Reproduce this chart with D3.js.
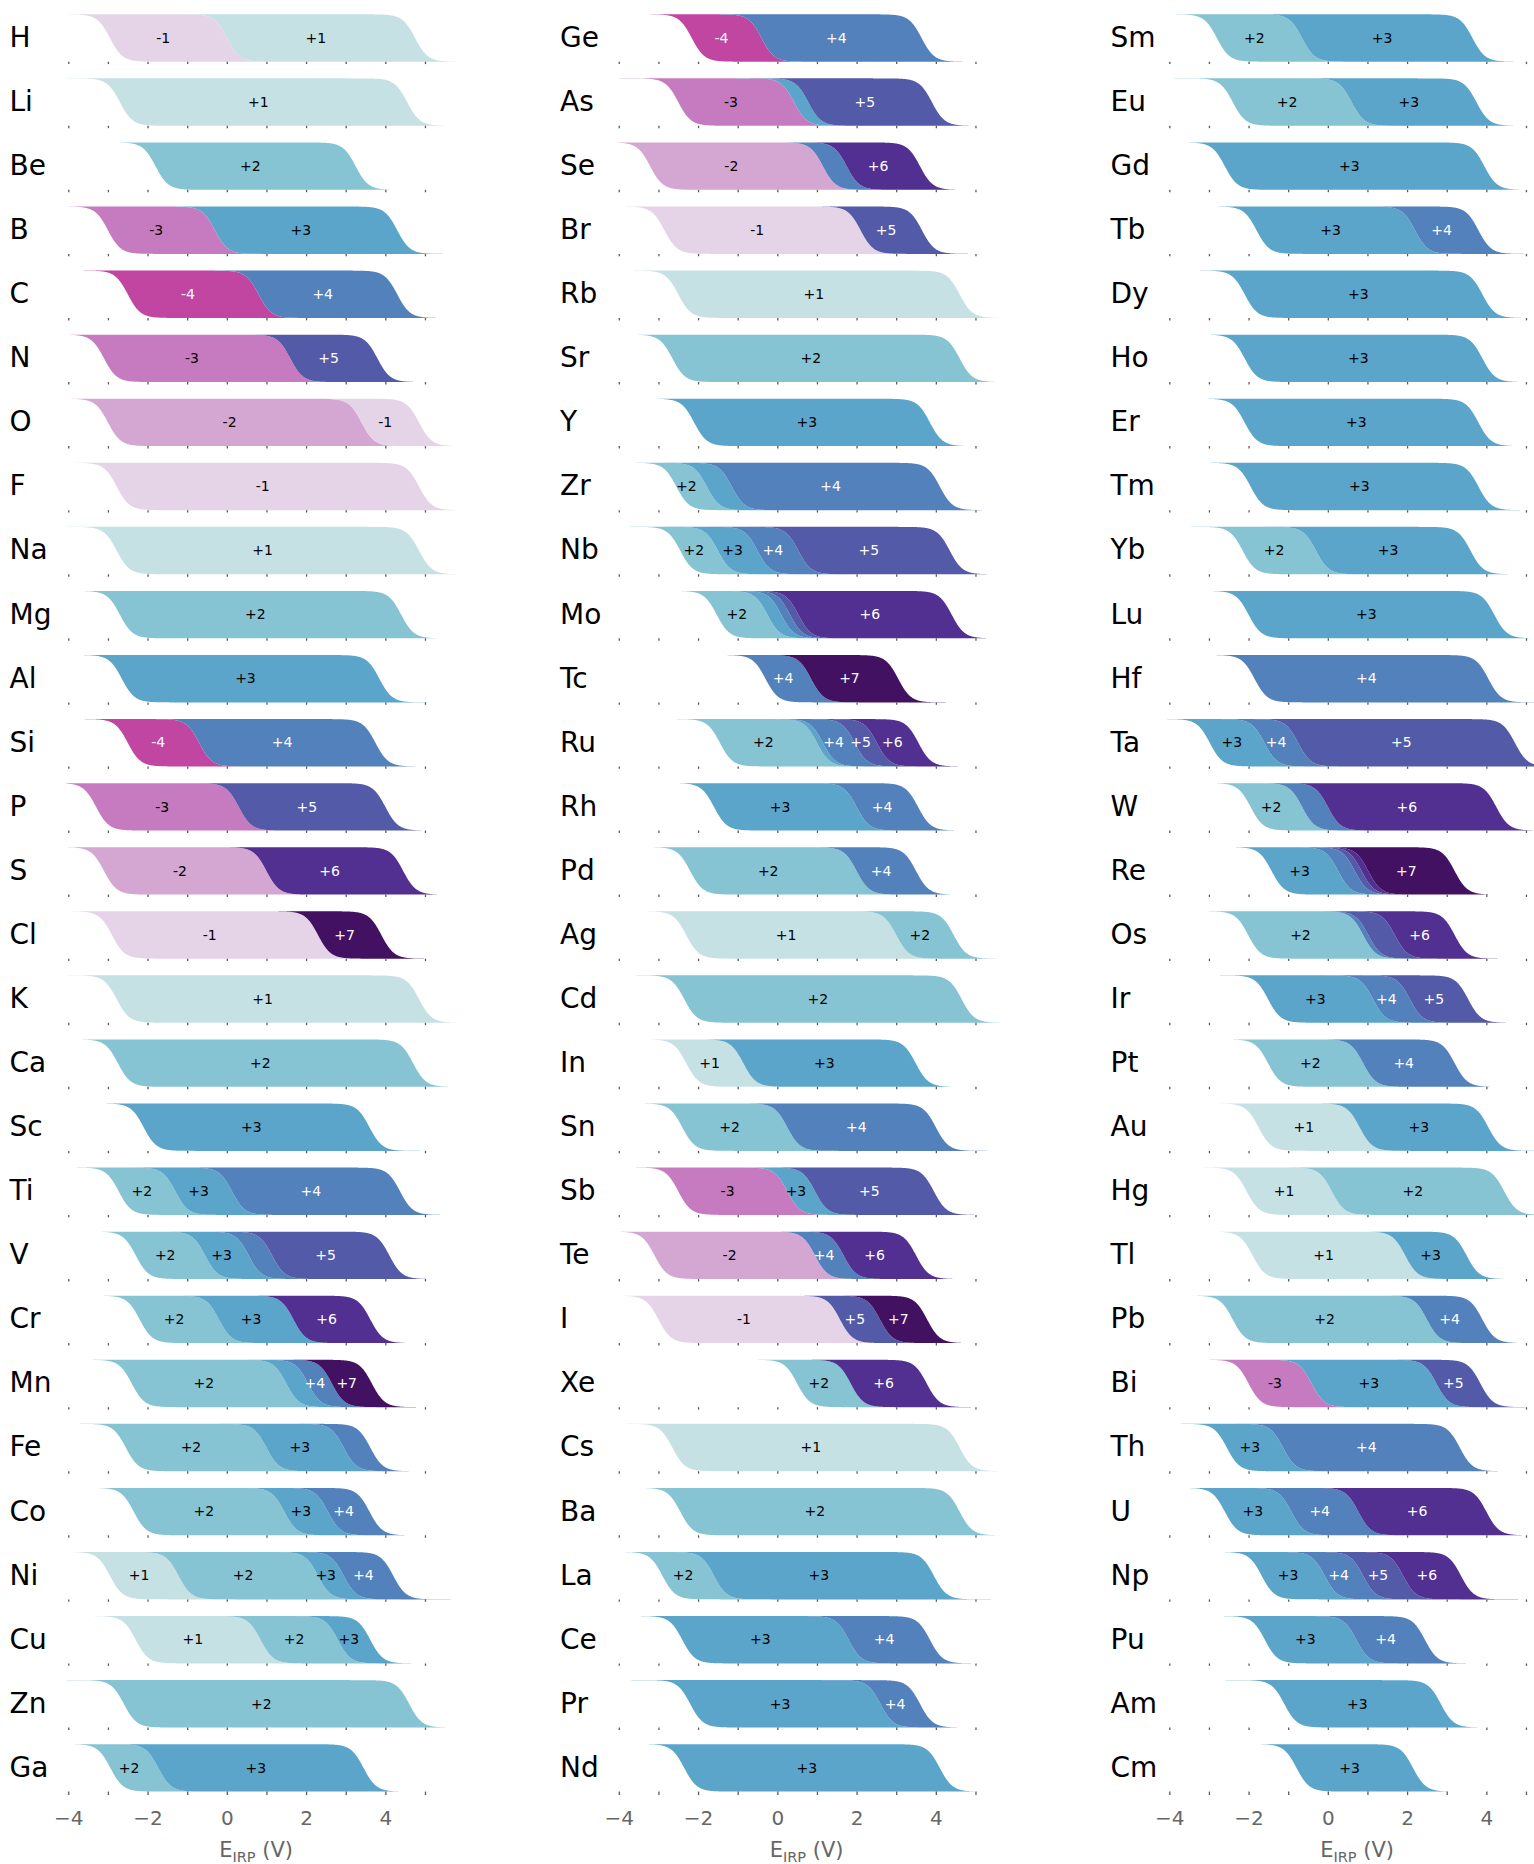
<!DOCTYPE html>
<html><head><meta charset="utf-8">
<script src="https://cdn.jsdelivr.net/npm/d3@7"></script>
<style>body{margin:0;background:#fff} svg{display:block} text{font-family:"DejaVu Sans",sans-serif}</style>
</head><body><svg id="chart" width="1534" height="1864"></svg>
<script>
// ---------------- DATA ----------------
const col1Symbols = ["H","Li","Be","B","C","N","O","F","Na","Mg","Al","Si","P","S","Cl","K","Ca","Sc","Ti","V","Cr","Mn","Fe","Co","Ni","Cu","Zn","Ga"];
const col1States = [[-1,1],[1],[2],[-3,3],[-4,4],[-3,5],[-2,-1],[-1],[1],[2],[3],[-4,4],[-3,5],[-2,6],[-1,7],[1],[2],[3],[2,3,4],[2,3,4,5],[2,3,6],[2,3,4,7],[2,3,4],[2,3,4],[1,2,3,4],[1,2,3],[2],[2,3]];
const col1Edges = [[-2.95,0.0,4.75],[-2.7,4.55],[-1.8,3.25],[-3.0,-0.3,4.3],[-2.5,0.8,4.3],[-3.1,1.6,3.8],[-3.0,3.4,4.85],[-2.78,4.85],[-2.78,4.85],[-2.7,4.4],[-2.65,3.85],[-2.5,-0.7,3.75],[-3.3,0.3,4.0],[-3.1,1.0,4.45],[-2.9,2.3,3.9],[-2.78,4.85],[-2.75,4.7],[-2.1,3.6],[-2.73,-1.3,0.13,4.37],[-2.3,-0.55,0.55,1.14,4.1],[-2.2,-0.2,1.68,3.62],[-2.4,1.5,2.05,2.65,3.66],[-2.55,1.0,2.95,3.62],[-2.35,1.45,2.55,3.6],[-2.95,-1.22,2.3,2.95,4.2],[-2.3,0.85,2.8,3.62],[-2.6,4.6],[-2.94,-1.73,3.45]];
const col1Unlabeled = [[],[],[],[],[],[],[],[],[],[],[],[],[],[],[],[],[],[],[],[4],[],[3],[4],[],[],[],[],[]];

const col2Symbols = ["Ge","As","Se","Br","Rb","Sr","Y","Zr","Nb","Mo","Tc","Ru","Rh","Pd","Ag","Cd","In","Sn","Sb","Te","I","Xe","Cs","Ba","La","Ce","Pr","Nd"];
const col2States = [[-4,4],[-3,3,5],[-2,4,6],[-1,5],[1],[2],[3],[2,3,4],[2,3,4,5],[2,3,4,5,6],[4,7],[2,3,4,5,6],[3,4],[2,4],[1,2],[2],[1,3],[2,4],[-3,3,5],[-2,4,6],[-1,5,7],[2,6],[1],[2],[2,3],[3,4],[3,4],[3]];
const col2Edges = [[-2.16,-0.4,3.64],[-2.5,0.42,0.78,3.9],[-3.21,1.15,1.75,3.6],[-2.85,2.1,3.65],[-2.5,4.6],[-2.65,4.6],[-2.1,3.85],[-2.55,-1.78,-1.15,4.1],[-2.45,-1.5,-0.5,0.53,4.35],[-1.53,-0.25,0.1,0.32,0.53,4.4],[-0.3,0.85,3.05],[-1.45,1.0,1.15,1.95,2.51,3.56],[-1.6,2.0,3.55],[-2.2,2.0,3.5],[-2.3,3.0,4.45],[-2.35,4.65],[-2.3,-0.86,3.49],[-2.4,0.25,4.0],[-2.5,0.25,0.95,3.95],[-3.1,0.95,1.67,3.5],[-3.0,1.58,2.59,3.78],[0.5,1.85,3.77],[-2.65,4.6],[-2.45,4.6],[-2.9,-1.6,3.95],[-2.4,1.8,3.85],[-2.2,2.6,3.6],[-2.35,4.1]];
const col2Unlabeled = [[],[3],[4],[],[],[],[],[3],[],[3,4,5],[],[3],[],[],[],[],[],[],[],[],[],[],[],[],[],[],[],[]];

const col3Symbols = ["Sm","Eu","Gd","Tb","Dy","Ho","Er","Tm","Yb","Lu","Hf","Ta","W","Re","Os","Ir","Pt","Au","Hg","Tl","Pb","Bi","Th","U","Np","Pu","Am","Cm"];
const col3States = [[2,3],[2,3],[3],[3,4],[3],[3],[3],[3],[2,3],[3],[4],[3,4,5],[2,4,6],[3,4,5,6,7],[2,4,5,6],[3,4,5],[2,4],[1,3],[1,2],[1,3],[2,4],[-3,3,5],[3,4],[3,4,6],[3,4,5,6],[3,4],[3],[3]];
const col3Edges = [[-2.8,-0.65,3.65],[-2.4,0.6,3.75],[-2.6,3.95],[-1.8,2.2,3.8],[-2.1,3.9],[-2.1,3.9],[-2.1,3.8],[-1.95,3.8],[-2.15,-0.3,3.6],[-2.0,4.2],[-1.85,4.05],[-2.98,-1.6,-0.75,4.72],[-1.95,-0.65,0.0,4.25],[-1.42,0.26,0.68,0.85,1.02,3.2],[-2.01,0.89,1.02,1.69,3.2],[-1.51,1.14,2.07,3.54],[-1.51,0.89,3.2],[-1.75,0.8,4.05],[-2.05,0.1,4.45],[-1.9,1.95,3.5],[-2.4,2.5,3.9],[-2.0,-0.41,2.74,3.85],[-2.55,-1.13,3.33],[-2.6,-0.92,0.77,4.0],[-1.67,-0.08,0.89,1.9,3.36],[-1.59,0.72,2.45],[-1.1,2.85],[-0.79,2.15]];
const col3Unlabeled = [[],[],[],[],[],[],[],[],[],[],[],[],[4],[4,5,6],[4,5],[],[],[],[],[],[],[],[],[],[],[],[],[]];

const stateList   = [-4, -3, -2, -1, 1, 2, 3, 4, 5, 6, 7];
const stateColors = ["#c046a2","#c67bc0","#d4a7d2","#e5d4e7","#c6e1e4","#86c4d3","#5ba5cb","#5281bc","#535aa8","#523091","#431162"];
const darkStates  = [-4, 4, 5, 6, 7];
const tickValues  = [-4, -2, 0, 2, 4];

// ---------------- LAYOUT ----------------
const columns = [
  {symbols: col1Symbols, states: col1States, edges: col1Edges, unl: col1Unlabeled},
  {symbols: col2Symbols, states: col2States, edges: col2Edges, unl: col2Unlabeled},
  {symbols: col3Symbols, states: col3States, edges: col3Edges, unl: col3Unlabeled}
];
const colX0 = [68.3, 618.8, 1169.3];
const pxPerV = 39.63;
const rowTop0 = 14.3, rowPitch = 64.07, rowH = 47.4;
const S = 0.16;
const F = t => 1 / (1 + Math.exp(-t / S));
const grid = d3.range(-4.05, 5.8, 0.01);
const color = d3.scaleOrdinal().domain(stateList).range(stateColors);
const fmt = s => (s > 0 ? "+" : "-") + Math.abs(s);

const svg = d3.select("#chart");

columns.forEach((col, ci) => {
  const x = d3.scaleLinear().domain([-4, 5]).range([colX0[ci], colX0[ci] + 9 * pxPerV]);
  const g = svg.append("g");
  col.symbols.forEach((sym, ri) => {
    const top = rowTop0 + ri * rowPitch;
    const y = d3.scaleLinear().domain([0, 1]).range([top, top + rowH]);
    const e = col.edges[ri], st = col.states[ri];
    const rg = g.append("g");
    st.forEach((s, k) => {
      const area = d3.area()
        .x(d => x(d))
        .y0(d => y(F(d - e[k])))
        .y1(d => y(F(d - e[k + 1])));
      rg.append("path").attr("d", area(grid)).attr("fill", color(s));
    });
    st.forEach((s, k) => {
      if (col.unl[ri].includes(s)) return;
      rg.append("text")
        .attr("x", x((e[k] + e[k + 1]) / 2 - 0.13))
        .attr("y", top + 28.4)
        .attr("text-anchor", "middle")
        .attr("font-size", 14)
        .attr("fill", darkStates.includes(s) ? "#ffffff" : "#000000")
        .text(fmt(s));
    });
    // element symbol
    g.append("text").attr("x", colX0[ci] - 58.8).attr("y", top + 32.6)
      .attr("font-size", 28).attr("fill", "#000").text(sym);
    // tiny tick marks
    const last = ri === col.symbols.length - 1;
    const ax = d3.axisBottom(x).tickValues(d3.range(-4, 6)).tickSize(last ? 3.5 : 2.4).tickFormat("");
    const ag = g.append("g").attr("transform", `translate(0,${top + rowH})`).call(ax);
    ag.select(".domain").remove();
    ag.selectAll(".tick line").attr("stroke", "#5a5a5a").attr("stroke-width", 1.3);
    if (last) {
      const lab = d3.axisBottom(x).tickValues(tickValues).tickSize(0).tickPadding(19.6)
        .tickFormat(d => d < 0 ? "\u2212" + Math.abs(d) : String(d));
      const lg = g.append("g").attr("transform", `translate(0,${top + rowH})`).call(lab);
      lg.select(".domain").remove();
      lg.selectAll("text").attr("font-size", 20).attr("fill", "#666666").attr("font-family", "DejaVu Sans");
      const t = g.append("text").attr("x", x(0.74)).attr("y", 1857)
        .attr("text-anchor", "middle").attr("fill", "#666666").attr("font-size", 21);
      t.append("tspan").text("E");
      t.append("tspan").attr("font-size", 14.5).attr("dy", 4.5).text("IRP");
      t.append("tspan").attr("dy", -4.5).text(" (V)");
    }
  });
});
</script></body></html>
